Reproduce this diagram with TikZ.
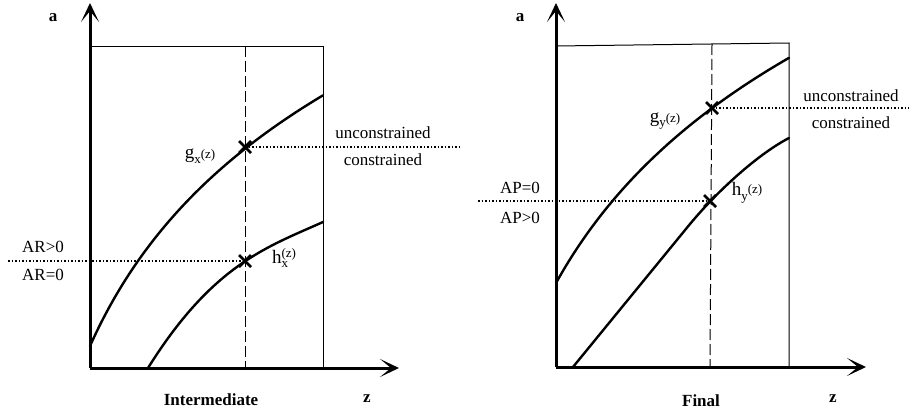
\documentclass[tikz,border=0pt]{standalone}
\usepackage{fontspec}
\setmainfont{Liberation Serif}
\usetikzlibrary{arrows.meta}
\newcommand{\subsc}[1]{\raisebox{-4.5pt}{\fontsize{13}{13}\selectfont #1}}
\newcommand{\zarg}{{\fontsize{13}{13}\selectfont(z)}}
\newcommand{\funcletter}[1]{{\fontsize{19}{20}\selectfont #1}}
\begin{document}
\begin{tikzpicture}[x=1pt,y=-1pt,
  axis/.style={line width=3pt,-{Stealth[length=19pt,width=18pt,inset=11pt]}},
  frame/.style={line width=1pt},
  curve/.style={line width=2.4pt,line cap=round},
  guide/.style={line width=1pt,dash pattern=on 11pt off 4pt},
  level/.style={line width=1.2pt,dash pattern=on 1.5pt off 2pt},
  cross/.style={line width=2.6pt},
  lab/.style={font=\fontsize{17}{20}\selectfont,inner sep=0pt},
  blab/.style={font=\fontsize{17}{20}\selectfont\bfseries,inner sep=0pt}]
\useasboundingbox (0,0) rectangle (909,415);

% ---------- left panel ----------
\coordinate (LO) at (90,368);
\coordinate (LYT) at (90,3);
\coordinate (LXT) at (399,368);
\coordinate (LBL) at (90,46);
\coordinate (LBR) at (323,46);
\coordinate (LBB) at (323,368);
\coordinate (LDT) at (245,46);
\coordinate (LDB) at (245,368);
\coordinate (GX) at (245,147);
\coordinate (HX) at (245,261);
\coordinate (GXe) at (460,147);
\coordinate (HXs) at (8,261);

\draw[frame] (LBL) -- (LBR) -- (LBB);
\draw[guide] (LDT) -- (LDB);
\draw[level] (GX) -- (GXe);
\draw[level] (HXs) -- (HX);
\draw[curve] plot[domain=90:323,samples=80] (\x,{346-190*ln(1+(\x-90)/85)});
\draw[curve] (148,368) .. controls (213,264) and (268,246.75) .. (323,222);
\draw[axis] (LO) -- (LYT);
\draw[axis] (LO) -- (LXT);
\foreach \p in {GX,HX}{
  \draw[cross] ([shift={(-6,-6)}]\p) -- ([shift={(6,6)}]\p);
  \draw[cross] ([shift={(-6,6)}]\p) -- ([shift={(6,-6)}]\p);
}
\node[blab] (la) at (53,18) {a};
\node[blab] (lz) at (367,399) {z};
\node[blab] (lint) at (211,400) {Intermediate};
\node[lab] (lunc) at (383,133) {unconstrained};
\node[lab] (lcon) at (383,160) {constrained};
\node[lab] (arp) at (43,247) {AR>0};
\node[lab] (arz) at (43,275) {AR=0};
\node[lab] (gxl) at (200,156) {\funcletter{g}\subsc{x}\zarg};
\node[lab] (hxl) at (284,258) {\funcletter{h}\rlap{\subsc{x}}\raisebox{6pt}{\zarg}};

% ---------- right panel ----------
\coordinate (RO) at (556,367);
\coordinate (RYT) at (556,3);
\coordinate (RXT) at (866,367);
\coordinate (RBL) at (556,46);
\coordinate (RBR) at (789,43);
\coordinate (RBB) at (789,367);
\coordinate (RDT) at (712,44);
\coordinate (RDB) at (710,367);
\coordinate (GY) at (712,108);
\coordinate (HY) at (710,201);
\coordinate (GYe) at (909,108);
\coordinate (HYs) at (478,201);

\draw[frame] (RBL) -- (RBR) -- (RBB);
\draw[guide] (RDT) -- (RDB);
\draw[level] (GY) -- (GYe);
\draw[level] (HYs) -- (HY);
\draw[curve] plot[domain=556:789,samples=80] (\x,{283-198*ln(1+(\x-556)/110)});
\draw[curve] (573,367) -- (690,224) .. controls (720,188) and (760,153) .. (789,138);
\draw[axis] (RO) -- (RYT);
\draw[axis] (RO) -- (RXT);
\foreach \p in {GY,HY}{
  \draw[cross] ([shift={(-6,-6)}]\p) -- ([shift={(6,6)}]\p);
  \draw[cross] ([shift={(-6,6)}]\p) -- ([shift={(6,-6)}]\p);
}
\node[blab] (ra) at (520,18) {a};
\node[blab] (rz) at (833,399) {z};
\node[blab] (rfin) at (701,401) {Final};
\node[lab] (runc) at (851,96) {unconstrained};
\node[lab] (rcon) at (851,123) {constrained};
\node[lab] (apz) at (520,188) {AP=0};
\node[lab] (app) at (520,218) {AP>0};
\node[lab] (gyl) at (665,121) {\funcletter{g}\subsc{y}\zarg};
\node[lab] (hyl) at (747,193) {\funcletter{h}\subsc{y}\raisebox{2pt}{\zarg}};
\end{tikzpicture}
\end{document}
